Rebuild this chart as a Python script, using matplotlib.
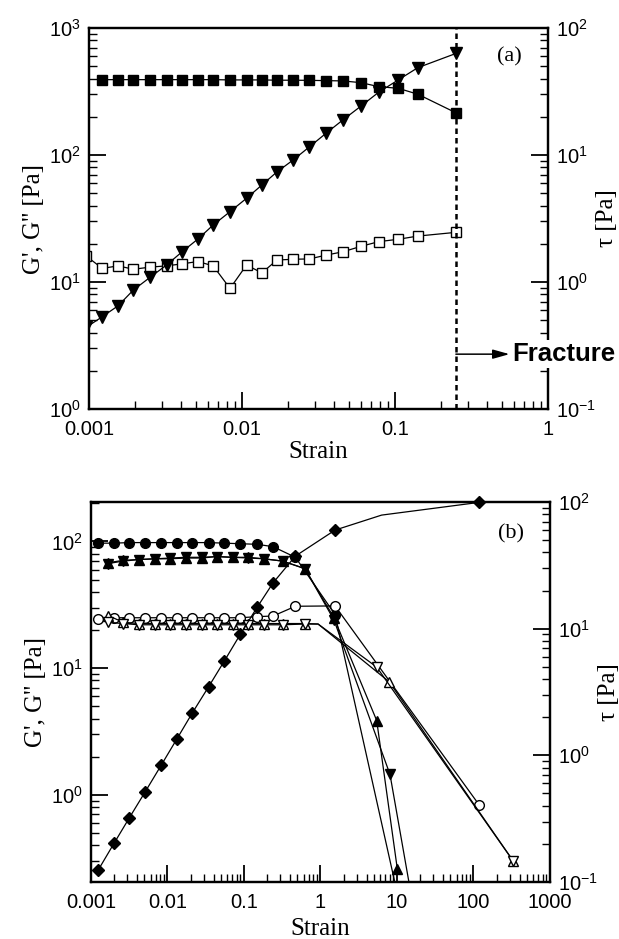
import matplotlib
matplotlib.use("Agg")
import matplotlib.pyplot as plt
from matplotlib.ticker import FuncFormatter, NullFormatter

plt.rcParams["font.family"] = ["Liberation Sans", "DejaVu Sans"]
plt.rcParams["axes.unicode_minus"] = False
SERIF = ["Liberation Serif", "DejaVu Serif"]

# --- (a) strain sweep up to fracture ---
strain_a = [0.00096, 0.00122, 0.00155, 0.00195, 0.00251, 0.00321, 0.00406, 0.00515,
            0.00648, 0.00835, 0.0107, 0.0135, 0.0169, 0.0216, 0.0276, 0.0356,
            0.0457, 0.060, 0.0785, 0.105, 0.141, 0.25]
gp_a = [float("nan"), 392, 392, 392, 392, 392, 392, 392, 392, 390, 390, 390, 388,
        388, 387, 385, 383, 371, 345, 335, 301, 215]
gpp_a = [16, 12.8, 13.4, 12.6, 13.1, 13.4, 13.9, 14.5, 13.4, 8.9, 13.6, 11.8, 14.9,
         15.1, 15.2, 16.3, 17.3, 19.1, 20.8, 21.7, 23.0, 24.6]
tau_a = [0.44, 0.533, 0.65, 0.865, 1.09, 1.36, 1.73, 2.18, 2.81, 3.58, 4.56, 5.81,
         7.35, 9.14, 11.6, 14.9, 18.9, 24.3, 31.3, 39.0, 48.7, 63.0]
fracture_strain = 0.25

# --- (b) three samples that flow instead of breaking ---
strain_b1 = [0.00124, 0.002, 0.00318, 0.00512, 0.0083, 0.0132, 0.0212, 0.0345,
             0.0556, 0.0895, 0.148, 0.24, 0.47, 1.55]
gp_b1 = [97, 97, 98, 98, 98, 98, 98, 98, 97, 96, 95, 91, 75, 26.5]
gp_b1_tail_x, gp_b1_tail_y = [10.5], [0.15]
gpp_b1 = [24.5, 25, 25, 25, 25, 25, 25, 25, 25, 25, 25.5, 25.8, 30.8, 31]
gpp_b1_tail_x, gpp_b1_tail_y = [119], [0.83]
tau_b1 = [0.124, 0.202, 0.322, 0.516, 0.838, 1.34, 2.17, 3.48, 5.58, 9.02, 14.7,
          23.0, 37.4, 60.0]
tau_b1_tail_x, tau_b1_tail_y = [6.3, 119], [78.8, 99.3]

strain_b2 = [0.00168, 0.00264, 0.00424, 0.00687, 0.0108, 0.0175, 0.028, 0.044,
             0.0711, 0.114, 0.182, 0.32, 0.627]
gp_b2 = [68, 71, 72, 73, 73, 74, 74, 76, 75, 75, 73, 70, 61]
gp_b2_tail_x, gp_b2_tail_y = [1.5, 5.43, 10.1], [25, 3.86, 0.26]
gp_b3 = [67, 70, 72, 73, 74, 75, 75, 76, 75, 74, 73, 70, 61]
gp_b3_tail_x, gp_b3_tail_y = [1.5, 8.1, 16], [24, 1.45, 0.14]
gpp_b2 = [26, 23, 22.5, 22.5, 22.5, 22.5, 22.5, 22.5, 22.5, 22.5, 22.5, 22.5, 22.5]
gpp_b2_tail_x, gpp_b2_tail_y = [0.93, 7.9, 331], [22.3, 7.8, 0.30]
gpp_b3 = [23, 22.5, 22, 22, 22, 22, 22, 22, 22, 22, 22, 22, 22.3]
gpp_b3_tail_x, gpp_b3_tail_y = [0.93, 5.43, 331], [22.3, 10.2, 0.30]

LW = 0.9


def style_axes(ax, ax2, xlabelpad):
    for a in (ax, ax2):
        for sp in a.spines.values():
            sp.set_linewidth(1.6)
    ax.tick_params(which="major", direction="in", length=12, width=1.3,
                   labelsize=14.5, pad=6, top=False, right=False)
    ax.tick_params(axis="x", which="major", pad=8)
    ax.tick_params(which="minor", direction="in", length=6, width=1.0,
                   top=False, right=False)
    ax2.tick_params(which="major", direction="in", length=12, width=1.3,
                    labelsize=14.5, pad=6)
    ax2.tick_params(which="minor", direction="in", length=6, width=1.0)
    ax.xaxis.set_major_formatter(FuncFormatter(lambda v, p: f"{v:g}"))
    for a in (ax.xaxis, ax.yaxis, ax2.yaxis):
        a.set_minor_formatter(NullFormatter())
    ax.set_xlabel("Strain", family=SERIF, fontsize=18, labelpad=xlabelpad)
    ax.set_ylabel("G', G'' [Pa]", family=SERIF, fontsize=18, labelpad=3)
    ax2.set_ylabel("τ [Pa]", family=SERIF, fontsize=18, labelpad=0)


fig = plt.figure(figsize=(6.19, 9.39), dpi=100)

# =============================================================================
# (a)
# =============================================================================
ax = fig.add_axes([0.1438, 0.5644, 0.7415, 0.4058])
ax.set_xscale("log")
ax.set_yscale("log")
ax.set_xlim(0.001, 1)
ax.set_ylim(1, 1000)
ax2 = ax.twinx()
ax2.set_yscale("log")
ax2.set_ylim(0.1, 100)

ax.plot(strain_a, gp_a, "-s", color="k", lw=LW, ms=7.5, mfc="k", mew=1)
ax.plot(strain_a, gpp_a, "-s", color="k", lw=LW, ms=6.8, mfc="white", mew=1)
ax2.plot(strain_a, tau_a, "-v", color="k", lw=LW, ms=8, mfc="k", mew=1)

ax.axvline(fracture_strain, color="k", lw=1.8, ls=(0, (2.2, 1.6)))
ax2.annotate("", xy=(0.56, 0.144), xytext=(fracture_strain, 0.144),
             xycoords=("data", "axes fraction"), textcoords=("data", "axes fraction"),
             arrowprops=dict(arrowstyle="-|>,head_length=1.0,head_width=0.28",
                             color="k", lw=1.1, shrinkA=0, shrinkB=0))
ax2.text(0.585, 0.144, "Fracture", transform=ax2.get_xaxis_transform(),
         fontsize=18.5, fontweight="bold", ha="left", va="center", zorder=10,
         bbox=dict(fc="white", ec="none", pad=1.5))
ax2.text(0.915, 0.925, "(a)", transform=ax2.transAxes, family=SERIF, fontsize=16,
         ha="center", va="center")
style_axes(ax, ax2, 1)

# =============================================================================
# (b)
# =============================================================================
bx = fig.add_axes([0.147, 0.0607, 0.7415, 0.4047])
bx.set_xscale("log")
bx.set_yscale("log")
bx.set_xlim(0.001, 1000)
bx.set_ylim(0.205, 205)
bx2 = bx.twinx()
bx2.set_yscale("log")
bx2.set_ylim(0.1, 100)

n1 = len(strain_b1)
n2 = len(strain_b2)
bx.plot(strain_b1 + gp_b1_tail_x, gp_b1 + gp_b1_tail_y, "-o", color="k", lw=LW,
        ms=7, mfc="k")
bx.plot(strain_b1 + gpp_b1_tail_x, gpp_b1 + gpp_b1_tail_y, "-o", color="k", lw=LW,
        ms=7, mfc="white", mew=1)
bx.plot(strain_b2 + gp_b2_tail_x, gp_b2 + gp_b2_tail_y, "-^", color="k", lw=LW,
        ms=7.5, mfc="k")
bx.plot(strain_b2 + gp_b3_tail_x, gp_b3 + gp_b3_tail_y, "-v", color="k", lw=LW,
        ms=7.5, mfc="k")
bx.plot(strain_b2 + gpp_b2_tail_x, gpp_b2 + gpp_b2_tail_y, "-^", color="k", lw=LW,
        ms=7.5, mfc="white", mew=1, markevery=list(range(n2)) + [n2 + 1, n2 + 2])
bx.plot(strain_b2 + gpp_b3_tail_x, gpp_b3 + gpp_b3_tail_y, "-v", color="k", lw=LW,
        ms=7.5, mfc="white", mew=1, markevery=list(range(n2)) + [n2 + 1, n2 + 2])
bx2.plot(strain_b1 + tau_b1_tail_x, tau_b1 + tau_b1_tail_y, "-D", color="k", lw=LW,
         ms=6, mfc="k", clip_on=False, markevery=list(range(n1)) + [n1 + 1])
bx2.text(0.915, 0.915, "(b)", transform=bx2.transAxes, family=SERIF, fontsize=16,
         ha="center", va="center")
style_axes(bx, bx2, 4)

fig.savefig("out.png", dpi=100)
